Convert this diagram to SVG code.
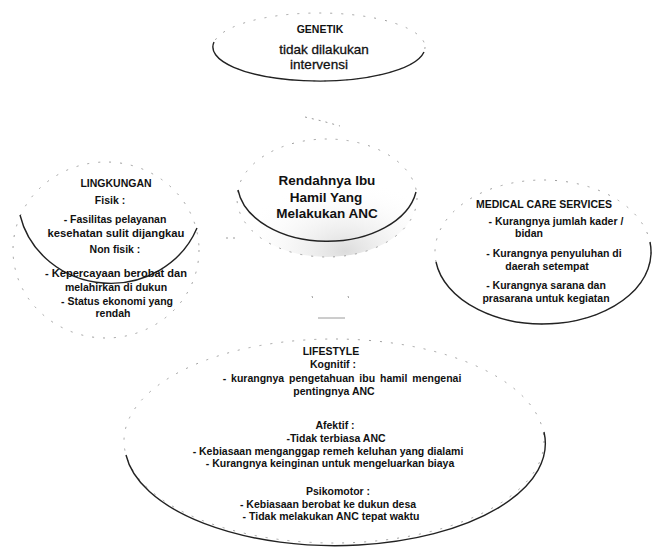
<svg xmlns="http://www.w3.org/2000/svg" width="652" height="549" viewBox="0 0 652 549">
<defs>
<style>
.faint{fill:none;stroke:#a0a0a0;stroke-width:1;stroke-dasharray:2 9}
.edge{fill:none;stroke:#222;stroke-width:1.4}
.t{font-family:"Liberation Sans",Arial,sans-serif;font-weight:bold;font-size:10.5px;fill:#111;text-anchor:middle}
.tr{font-family:"Liberation Sans",Arial,sans-serif;font-weight:normal;font-size:13.5px;fill:#111;stroke:#111;stroke-width:0.3;text-anchor:middle}
.big{font-family:"Liberation Sans",Arial,sans-serif;font-weight:bold;font-size:13.5px;fill:#111;text-anchor:middle}
.conn{fill:none;stroke:#9a9a9a;stroke-width:1;stroke-dasharray:2 5}
</style>
<radialGradient id="shade" cx="0.6" cy="0.95" r="0.6">
<stop offset="0" stop-color="#dcdcdc"/>
<stop offset="1" stop-color="#ffffff" stop-opacity="0"/>
</radialGradient>
</defs>
<rect width="652" height="549" fill="#ffffff"/>

<g id="connectors">
<path class="conn" d="M305,117 L322,121 L340,126"/>
<path class="conn" d="M226,238 L236,238"/>
<path d="M318,318 L345,318" stroke="#9a9a9a" stroke-width="1" fill="none"/>
<path class="conn" d="M312,296 L313,299 M348,296 L349,299"/>
</g>

<g id="genetik">
<ellipse class="faint" cx="319" cy="47" rx="106" ry="34"/>
<path class="edge" d="M214,42 A106,34 0 0 0 424,52"/>
<text class="t" x="320" y="33">GENETIK</text>
<text class="tr" x="324" y="54">tidak dilakukan</text>
<text class="tr" x="319" y="69">intervensi</text>
</g>

<g id="lingkungan">
<ellipse class="faint" cx="106" cy="250" rx="93" ry="88"/>
<path class="edge" d="M20,215 A93,88 0 0 0 197,228"/>
<text class="t" x="116" y="187">LINGKUNGAN</text>
<text class="t" x="110" y="204">Fisik :</text>
<text class="t" x="115" y="223">- Fasilitas pelayanan</text>
<text class="t" x="116" y="237" textLength="137" lengthAdjust="spacingAndGlyphs">kesehatan sulit dijangkau</text>
<text class="t" x="115" y="253">Non fisik :</text>
<text class="t" x="116" y="277" textLength="142" lengthAdjust="spacingAndGlyphs">- Kepercayaan berobat  dan</text>
<text class="t" x="116" y="291">melahirkan di dukun</text>
<text class="t" x="117" y="305">- Status ekonomi yang</text>
<text class="t" x="113" y="317">rendah</text>
</g>

<g id="center">
<ellipse cx="327" cy="198" rx="90" ry="59" fill="url(#shade)"/>
<ellipse class="faint" cx="327" cy="198" rx="90" ry="59"/>
<path class="edge" d="M238,190 A90,59 0 0 0 416,192"/>
<text class="big" x="327" y="185">Rendahnya Ibu</text>
<text class="big" x="326" y="202">Hamil Yang</text>
<text class="big" x="327" y="218">Melakukan ANC</text>
</g>

<g id="medical">
<ellipse class="faint" cx="543" cy="252" rx="108" ry="72"/>
<path class="edge" d="M436,262 A108,72 0 0 0 650,242"/>
<text class="t" x="544" y="208">MEDICAL CARE SERVICES</text>
<text class="t" x="556" y="225">- Kurangnya jumlah kader /</text>
<text class="t" x="529" y="237">bidan</text>
<text class="t" x="554" y="257">- Kurangnya penyuluhan di</text>
<text class="t" x="547" y="270">daerah setempat</text>
<text class="t" x="546" y="289">- Kurangnya sarana dan</text>
<text class="t" x="546" y="302">prasarana untuk kegiatan</text>
</g>

<g id="lifestyle">
<ellipse class="faint" cx="334" cy="441" rx="210" ry="102"/>
<path class="edge" d="M126,455 A210,102 0 0 0 544,432"/>
<text class="t" x="331" y="355">LIFESTYLE</text>
<text class="t" x="333" y="368">Kognitif :</text>
<text class="t" x="342" y="382" style="word-spacing:2px">- kurangnya pengetahuan ibu hamil mengenai</text>
<text class="t" x="334" y="395">pentingnya ANC</text>
<text class="t" x="335" y="429">Afektif :</text>
<text class="t" x="336" y="442">-Tidak terbiasa ANC</text>
<text class="t" x="328" y="455">- Kebiasaan menganggap remeh keluhan yang dialami</text>
<text class="t" x="330" y="467">- Kurangnya keinginan untuk  mengeluarkan biaya</text>
<text class="t" x="338" y="495">Psikomotor :</text>
<text class="t" x="328" y="508">- Kebiasaan berobat ke dukun desa</text>
<text class="t" x="331" y="520">- Tidak melakukan ANC tepat waktu</text>
</g>
</svg>
